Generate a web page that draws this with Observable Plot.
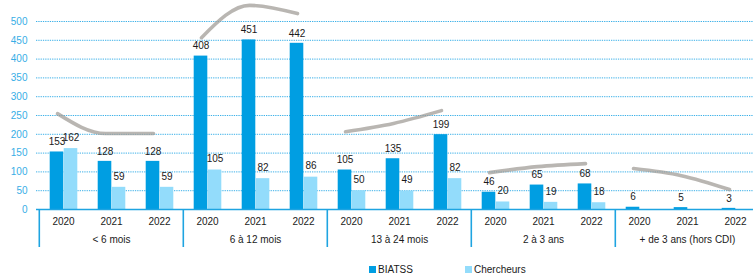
<!DOCTYPE html>
<html>
<head>
<meta charset="utf-8">
<script src="https://cdn.jsdelivr.net/npm/d3@7"></script>
<script src="https://cdn.jsdelivr.net/npm/@observablehq/plot@0.6"></script>
<style>
  html, body { margin: 0; padding: 0; background: white; overflow: hidden; }
  #wrap { position: relative; width: 753px; height: 275px; }
  .leg { position: absolute; top: 263px; font: 10px "Liberation Sans", Arial, sans-serif; color: #1a1a1a; line-height: 14px; white-space: nowrap; }
  .sw { display: inline-block; width: 7px; height: 7px; margin-right: 2px; vertical-align: -0px; }
</style>
</head>
<body>
<div id="wrap">
  <div id="chart"></div>
  <div class="leg" style="left:369px"><span class="sw" style="background:#009ee2"></span>BIATSS</div>
  <div class="leg" style="left:465px"><span class="sw" style="background:#93dcfb"></span>Chercheurs</div>
</div>
<script>
const groups = ["< 6 mois", "6 à 12 mois", "13 à 24 mois", "2 à 3 ans", "+ de 3 ans (hors CDI)"];
const years = ["2020", "2021", "2022"];
const biatss = [153, 128, 128, 408, 451, 442, 105, 135, 199, 46, 65, 68, 6, 5, 3];
const chercheurs = [162, 59, 59, 105, 82, 86, 50, 49, 82, 20, 19, 18, null, null, null];
const trend = [255, 202, 202, 457, 543, 521, 207, 229, 263, 98, 114, 122, 109, 90, 53];
const yTicks = [0, 50, 100, 150, 200, 250, 300, 350, 400, 450, 500];

const rows = [];
groups.forEach((g, gi) => years.forEach((yr, yi) => {
  const i = gi * years.length + yi;
  rows.push({key: g + "|" + yr, group: g, year: yr, biatss: biatss[i], chercheurs: chercheurs[i], trend: trend[i]});
}));
const keys = rows.map(d => d.key);

const xRange = [36, 762];
const bw = (xRange[1] - xRange[0]) / keys.length;
const half = bw / 2;

const dark = "#009ee2", light = "#93dcfb", axisBlue = "#1ea4e1", gridBlue = "#3db1e8", yLab = "#37aee6", gray = "#a29d98";

const chart = Plot.plot({
  width: 753,
  height: 260,
  marginLeft: 36,
  marginRight: 0,
  marginTop: 21,
  marginBottom: 51,
  style: {fontFamily: "'Liberation Sans', Arial, sans-serif", fontSize: "10px", color: "#1a1a1a", background: "white", overflow: "visible"},
  x: {domain: keys, range: xRange, padding: 0, label: null},
  y: {domain: [0, 500], label: null},
  marks: [
    Plot.gridY(yTicks.filter(t => t > 0), {stroke: gridBlue, strokeOpacity: 1, strokeWidth: 1, strokeDasharray: "1.3,1"}),
    Plot.barY(rows, {x: "key", y: "biatss", fill: dark, insetLeft: half - 13.5, insetRight: half - 0.5}),
    Plot.barY(rows.filter(d => d.chercheurs != null), {x: "key", y: "chercheurs", fill: light, insetLeft: half + 0.5, insetRight: half - 14.5}),
    Plot.ruleY([0], {stroke: axisBlue, strokeWidth: 1.6}),
    Plot.axisY({ticks: yTicks, tickSize: 0, tickPadding: 9, color: yLab, label: null}),
    Plot.axisX({tickSize: 0, tickPadding: 8, tickFormat: k => k.split("|")[1], label: null, fill: "#1a1a1a"}),
    Plot.axisX(groups.map(g => g + "|" + years[0]), {tickSize: 38, text: null, stroke: axisBlue, strokeWidth: 1.6, dx: -half, label: null}),
    Plot.text(groups, {x: g => g + "|" + years[1], text: g => g, frameAnchor: "bottom", dy: 33, fill: "#1a1a1a"}),
    Plot.line(rows, {x: "key", y: "trend", z: "group", stroke: gray, strokeWidth: 3.6, strokeOpacity: 0.75, strokeLinecap: "round", curve: "monotone-x", dx: -6}),
    Plot.text(rows, {x: "key", y: "biatss", text: d => String(d.biatss), dx: -6.5, dy: -10, fill: "#1a1a1a"}),
    Plot.text(rows.filter(d => d.chercheurs != null), {x: "key", y: "chercheurs", text: d => String(d.chercheurs), dx: 7.5, dy: -11, fill: "#1a1a1a"})
  ]
});
document.getElementById("chart").appendChild(chart);
</script>
</body>
</html>
